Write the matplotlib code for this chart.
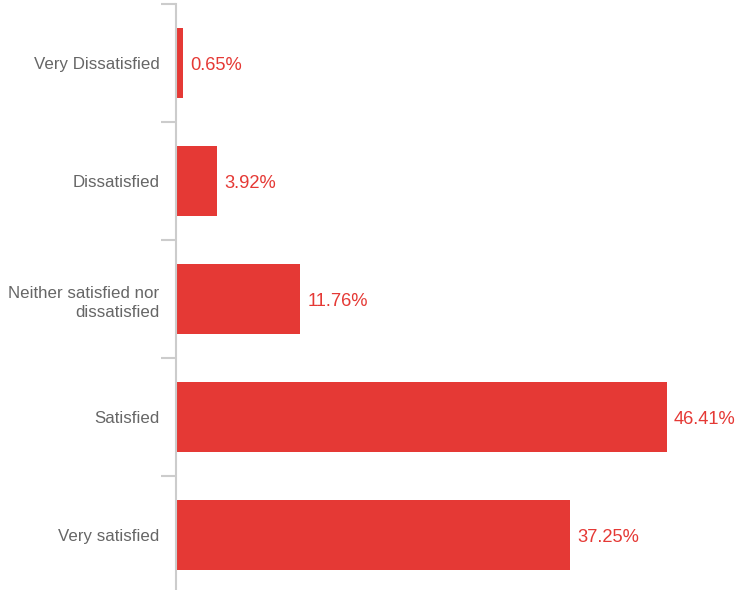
import numpy as np
import matplotlib.pyplot as plt
from matplotlib.ticker import FixedLocator

categories = ["Very Dissatisfied", "Dissatisfied", "Neither satisfied nor\ndissatisfied",
              "Satisfied", "Very satisfied"]
values = [0.65, 3.92, 11.76, 46.41, 37.25]

bar_color = '#e53935'
label_color = '#666666'
axis_color = '#cccccc'

plt.rcParams['font.family'] = ['Liberation Sans', 'DejaVu Sans']

W, H = 737, 590
fig = plt.figure(figsize=(W / 100, H / 100), dpi=100)
# axes in pixel coords: left 176, top 4, bottom 594 (slightly below the figure)
left, right, top, bottom = 176, 737, 4, 594
ax = fig.add_axes([left / W, (H - bottom) / H, (right - left) / W, (bottom - top) / H])

y = np.arange(len(categories))
ax.barh(y, values, height=0.593, color=bar_color)
ax.set_ylim(len(categories) - 0.5, -0.5)
ax.set_xlim(0, (right - left) / 10.58)

for yi, v in zip(y, values):
    ax.annotate(f"{v:.2f}%", (v, yi), xytext=(5, -1.5), textcoords='offset points',
                va='center', ha='left', color=bar_color, fontsize=13.2)

ax.set_yticks(y)
ax.set_yticklabels(categories, fontsize=12.2, color=label_color, ha='right',
                   linespacing=1.4)
ax.yaxis.set_minor_locator(FixedLocator(np.arange(-0.5, len(categories), 1.0)))
ax.tick_params(axis='y', which='major', length=0, pad=12)
ax.tick_params(axis='y', which='minor', length=11, width=1.5, color=axis_color)
ax.set_xticks([])

for s in ['top', 'right', 'bottom']:
    ax.spines[s].set_visible(False)
ax.spines['left'].set_color(axis_color)
ax.spines['left'].set_linewidth(1.5)

fig.savefig("out.png", dpi=100)
